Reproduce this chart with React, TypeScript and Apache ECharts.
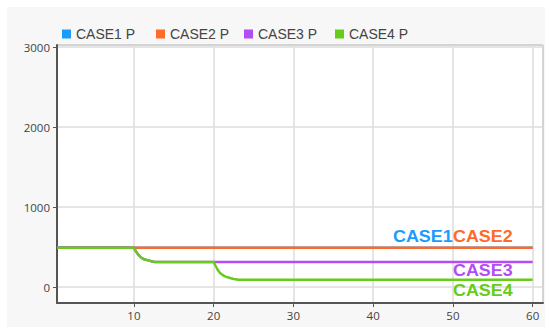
import React, { useEffect, useRef } from "react";
import * as echarts from "echarts";

const legendNames = ["CASE1 P", "CASE2 P", "CASE3 P", "CASE4 P"];
const seriesColors = ["#1a9cff", "#ff6a2a", "#b44cf5", "#66cc1a"];
const endLabels = ["CASE1", "CASE2", "CASE3", "CASE4"];

const case12Time = [0.35, 60];
const case1P = [490, 490];
const case2P = [490, 490];

const case3Time = [0.35, 10, 10.25, 10.54, 10.85, 11.17, 11.5, 11.8, 12.2, 12.63, 13, 60];
const case3P = [490, 490, 445, 404, 372, 350, 340, 333, 322, 313, 312, 312];

const case4Time = [
  0.35, 10, 10.25, 10.54, 10.85, 11.17, 11.5, 11.8, 12.2, 12.63, 13,
  20, 20.18, 20.38, 20.58, 20.79, 21.1, 21.42, 21.75, 22.05, 22.5, 23.09, 23.5, 60,
];
const case4P = [
  490, 490, 445, 404, 372, 350, 340, 333, 322, 313, 312,
  312, 275, 237, 203, 175, 152, 133, 121, 112, 100, 92, 91, 91,
];

const xMin = 0.35;
const xMax = 61.3;
const yMin = -200;
const yMax = 3025;

function pairs(t: number[], v: number[]) {
  return t.map((x, i) => [x, v[i]]);
}

export default function App() {
  const ref = useRef<HTMLDivElement>(null);
  useEffect(() => {
    if (!ref.current) return;
    const chart = echarts.init(ref.current, undefined, { renderer: "svg" });
    const seriesData = [
      pairs(case12Time, case1P),
      pairs(case12Time, case2P),
      pairs(case3Time, case3P),
      pairs(case4Time, case4P),
    ];
    const legendLefts = [57, 151, 239, 330];
    const labelFont = {
      fontFamily: "Liberation Sans, Arial, sans-serif",
      fontWeight: "bold" as const,
      fontSize: 16,
    };
    const labelPos = [
      [393, 237],
      [453, 237],
      [453, 271],
      [453, 291],
    ];
    const axisLabelStyle = {
      color: "#444",
      fontFamily: "Open Sans, sans-serif",
      fontSize: 11.5,
      showMinLabel: false,
      showMaxLabel: false,
      formatter: (v: number) => String(v),
    };
    chart.setOption({
      animation: false,
      backgroundColor: "transparent",
      legend: legendNames.map((n, i) => ({
        data: [n],
        left: legendLefts[i],
        top: 22,
        icon: "rect",
        itemWidth: 9,
        itemHeight: 9,
        itemGap: 5,
        selectedMode: false,
        textStyle: {
          fontFamily: "Liberation Sans, Arial, sans-serif",
          fontSize: 14,
          color: "#444",
        },
      })),
      grid: {
        left: 57,
        right: 7,
        top: 45,
        bottom: 33,
        show: true,
        backgroundColor: "#ffffff",
        borderColor: "#777",
        borderWidth: 1,
      },
      xAxis: {
        type: "value",
        min: xMin,
        max: xMax,
        splitNumber: 6,
        axisLine: { show: true, onZero: false, lineStyle: { color: "#555", width: 2 } },
        axisTick: { show: true, length: 4, lineStyle: { color: "#555" } },
        axisLabel: { ...axisLabelStyle, margin: 6 },
        splitLine: { show: true, lineStyle: { color: "#dcdcdc", width: 1.5 } },
      },
      yAxis: {
        type: "value",
        min: yMin,
        max: yMax,
        splitNumber: 3,
        axisLine: { show: true, onZero: false, lineStyle: { color: "#555", width: 2 } },
        axisTick: { show: true, length: 4, lineStyle: { color: "#555" } },
        axisLabel: { ...axisLabelStyle, margin: 7 },
        splitLine: { show: true, lineStyle: { color: "#dcdcdc", width: 1.5 } },
      },
      series: legendNames.map((n, i) => ({
        name: n,
        type: "line",
        data: seriesData[i],
        showSymbol: false,
        symbol: "none",
        color: seriesColors[i],
        lineStyle: { width: 2.5, color: seriesColors[i] },
      })),
      graphic: endLabels.map((t, i) => ({
        type: "text",
        x: labelPos[i][0],
        y: labelPos[i][1],
        scaleX: 1.12,
        z: 100,
        style: {
          text: t,
          fill: seriesColors[i],
          ...labelFont,
          textAlign: "left",
          textVerticalAlign: "middle",
        },
      })),
    });
    return () => chart.dispose();
  }, []);
  return (
    <div style={{ position: "fixed", left: 0, top: 0, width: 550, height: 336, background: "#ffffff" }}>
      <div
        style={{ position: "absolute", left: 7, top: 7, width: 538, height: 320, background: "#f7f7f7" }}
      />
      <div ref={ref} style={{ position: "absolute", left: 0, top: 0, width: 550, height: 336 }} />
    </div>
  );
}
